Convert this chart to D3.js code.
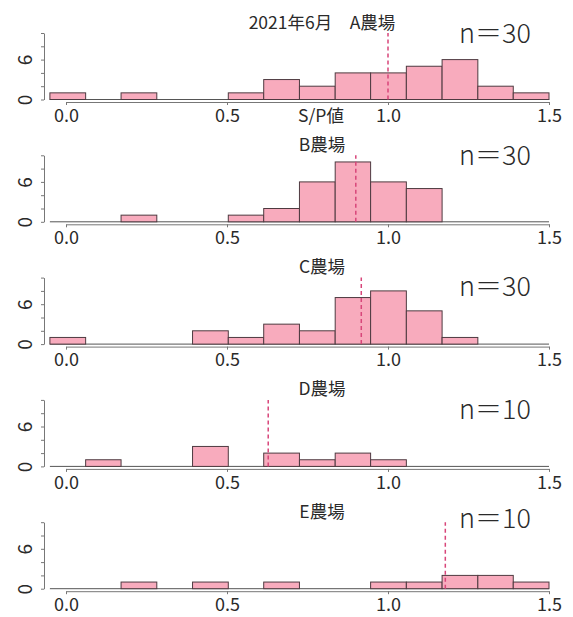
<!DOCTYPE html>
<html>
<head>
<meta charset="utf-8">
<script src="https://cdn.jsdelivr.net/npm/d3@7"></script>
<style>
  body { margin: 0; background: #fff; }
  text { font-family: "Noto Sans CJK JP", "Noto Sans", sans-serif; fill: #2a2a2a; }
</style>
</head>
<body>
<div class="content"></div>
<script>
// histogram bin edges (S/P値)
const binEdges = [-0.05, 0.061, 0.171, 0.282, 0.393, 0.504, 0.614, 0.725, 0.836, 0.946, 1.057, 1.168, 1.279, 1.389, 1.5];

const titles = ["2021年6月　A農場", "B農場", "C農場", "D農場", "E農場"];
const nLabels = ["n＝30", "n＝30", "n＝30", "n＝10", "n＝10"];

const countsA = [1, 0, 1, 0, 0, 1, 3, 2, 4, 4, 5, 6, 2, 1];
const countsB = [0, 0, 1, 0, 0, 1, 2, 6, 9, 6, 5, 0, 0, 0];
const countsC = [1, 0, 0, 0, 2, 1, 3, 2, 7, 8, 5, 1, 0, 0];
const countsD = [0, 1, 0, 0, 3, 0, 2, 1, 2, 1, 0, 0, 0, 0];
const countsE = [0, 0, 1, 0, 1, 0, 1, 0, 0, 1, 1, 2, 2, 1];
const allCounts = [countsA, countsB, countsC, countsD, countsE];

// mean S/P value (dashed line) per farm
const means = [1.0, 0.9, 0.917, 0.628, 1.178];

const xTicks = [0, 0.5, 1.0, 1.5];
const yTicks = [0, 2, 4, 6, 8, 10];
const yLabelled = [0, 6];

const width = 573;
const height = 617;

const firstBase = 99.5;
const panelStep = 122.3;
const nOffsets = [57, 57, 48, 47, 61];

const svg = d3
  .select(".content")
  .append("svg")
  .attr("width", width)
  .attr("height", height);

const x = d3.scaleLinear().domain([0, 1.5]).range([66, 549]);
const y = d3.scaleLinear().domain([0, 10]).range([0, -66.5]);

function drawPanel(i) {
  const counts = allCounts[i];
  const bins = counts.map((c, k) => ({ x0: binEdges[k], x1: binEdges[k + 1], count: c }));

  const g = svg
    .append("g")
    .attr("transform", `translate(0, ${firstBase + panelStep * i})`);

  // zero line under the bins
  g.append("line")
    .attr("x1", x(binEdges[0]))
    .attr("x2", x(binEdges[binEdges.length - 1]))
    .attr("y1", y(0))
    .attr("y2", y(0))
    .attr("stroke", "#555")
    .attr("stroke-width", 1);

  g.selectAll("rect")
    .data(bins.filter((d) => d.count > 0))
    .enter()
    .append("rect")
    .attr("x", (d) => x(d.x0))
    .attr("width", (d) => x(d.x1) - x(d.x0))
    .attr("y", (d) => y(d.count))
    .attr("height", (d) => y(0) - y(d.count))
    .attr("fill", "#f8abbd")
    .attr("stroke", "#4e3a40")
    .attr("stroke-width", 1);

  // x axis
  const xAxis = g
    .append("g")
    .attr("transform", "translate(0, 2.5)")
    .call(
      d3.axisBottom(x)
        .tickValues(xTicks)
        .tickFormat(d3.format(".1f"))
        .tickSize(3)
        .tickSizeOuter(0)
        .tickPadding(4)
    );
  xAxis.selectAll("path, line").attr("stroke", "#777");
  xAxis.selectAll("text").style("font-size", "18px").attr("fill", "#2a2a2a");

  // y axis
  const yAxis = g
    .append("g")
    .attr("transform", "translate(44, 0)")
    .call(
      d3.axisLeft(y)
        .tickValues(yTicks)
        .tickFormat((d) => (yLabelled.indexOf(d) > -1 ? d : ""))
        .tickSize(3)
        .tickSizeOuter(0)
    );
  yAxis.selectAll("path, line").attr("stroke", "#777");
  yAxis
    .selectAll("text")
    .attr("x", null)
    .attr("dy", null)
    .attr("text-anchor", "middle")
    .attr("transform", "translate(-12, 0) rotate(-90)")
    .style("font-size", "19px")
    .attr("fill", "#2a2a2a");

  // mean line
  g.append("line")
    .attr("x1", x(means[i]))
    .attr("x2", x(means[i]))
    .attr("y1", y(0))
    .attr("y2", y(10))
    .attr("stroke", "#d8467a")
    .attr("stroke-width", 1.5)
    .attr("stroke-dasharray", "4,3");

  // title
  g.append("text")
    .attr("x", 322)
    .attr("y", -71)
    .attr("text-anchor", "middle")
    .style("font-size", "17.5px")
    .text(titles[i]);

  // n label
  g.append("text")
    .attr("x", 459)
    .attr("y", -nOffsets[i])
    .style("font-size", "27px")
    .style("font-weight", 300)
    .text(nLabels[i]);

  if (i == 0) {
    g.append("text")
      .attr("x", 321)
      .attr("y", 22)
      .attr("text-anchor", "middle")
      .style("font-size", "17.5px")
      .text("S/P値");
  }
}

titles.forEach((t, i) => drawPanel(i));
</script>
</body>
</html>
